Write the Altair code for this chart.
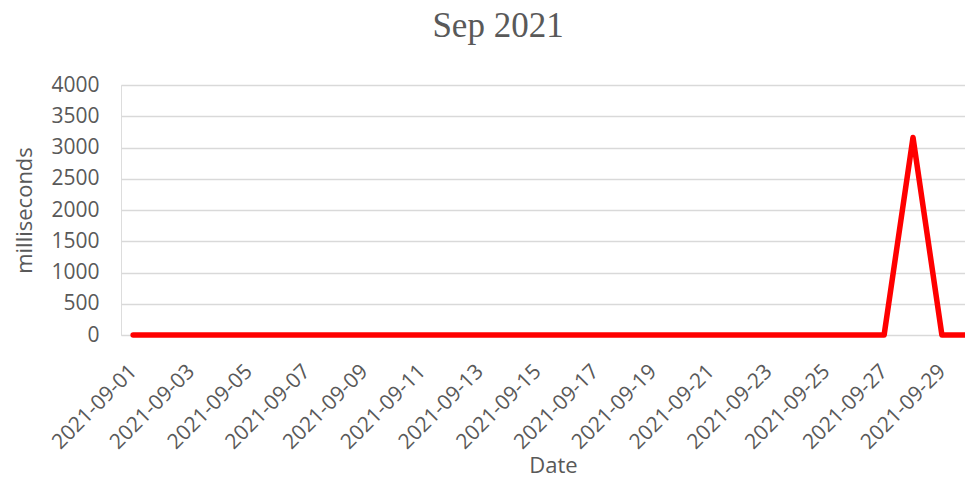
import altair as alt
import pandas as pd

dates = [
    "2021-09-01", "2021-09-02", "2021-09-03", "2021-09-04", "2021-09-05",
    "2021-09-06", "2021-09-07", "2021-09-08", "2021-09-09", "2021-09-10",
    "2021-09-11", "2021-09-12", "2021-09-13", "2021-09-14", "2021-09-15",
    "2021-09-16", "2021-09-17", "2021-09-18", "2021-09-19", "2021-09-20",
    "2021-09-21", "2021-09-22", "2021-09-23", "2021-09-24", "2021-09-25",
    "2021-09-26", "2021-09-27", "2021-09-28", "2021-09-29", "2021-09-30",
]
milliseconds = [
    0, 0, 0, 0, 0, 0, 0, 0, 0, 0,
    0, 0, 0, 0, 0, 0, 0, 0, 0, 0,
    0, 0, 0, 0, 0, 0, 0, 3160, 0, 0,
]
y_ticks = [0, 500, 1000, 1500, 2000, 2500, 3000, 3500, 4000]
x_tick_positions = [1, 3, 5, 7, 9, 11, 13, 15, 17, 19, 21, 23, 25, 27, 29]

df = pd.DataFrame({
    "date": dates,
    "ms": milliseconds,
    "pos": list(range(1, len(dates) + 1)),
})

label_expr = "[" + ",".join(f"'{d}'" for d in dates) + "][datum.value - 1]"

TEXT = "#595959"
FONT = "Open Sans"

chart = alt.Chart(df).mark_line(
    color="#ff0000", strokeWidth=5.5, strokeJoin="round", strokeCap="round"
).encode(
    x=alt.X(
        "pos:Q",
        scale=alt.Scale(domain=[0.58, 29.8], nice=False, zero=False),
        axis=alt.Axis(
            values=x_tick_positions,
            labelExpr=label_expr,
            labelAngle=-45,
            labelAlign="right",
            labelBaseline="middle",
            labelPadding=33,
            labelFont=FONT,
            labelFontSize=21,
            labelColor=TEXT,
            labelOverlap=False,
            ticks=False,
            grid=False,
            domain=False,
            title="Date",
            titleFont=FONT,
            titleFontSize=22,
            titleFontWeight="normal",
            titleColor=TEXT,
            titlePadding=3,
            titleX=432,
        ),
    ),
    y=alt.Y(
        "ms:Q",
        scale=alt.Scale(domain=[0, 4000], nice=False),
        axis=alt.Axis(
            values=y_ticks,
            format="d",
            labelFont=FONT,
            labelFontSize=21,
            labelColor=TEXT,
            labelPadding=22,
            ticks=False,
            domain=False,
            grid=True,
            gridColor="#d9d9d9",
            gridWidth=1.5,
            title="milliseconds",
            titleFont=FONT,
            titleFontSize=22,
            titleFontWeight="normal",
            titleColor=TEXT,
            titlePadding=14,
        ),
    ),
).properties(
    width=844,
    height=250,
    title=alt.TitleParams(
        "Sep 2021",
        font="Liberation Serif",
        fontSize=35,
        fontWeight="normal",
        color=TEXT,
        offset=30,
        dx=-45,
    ),
    autosize=alt.AutoSizeParams(type="none"),
    padding={"left": 113, "top": 77, "right": 0, "bottom": 144},
).configure_view(stroke=None).configure(background="white")

chart.save("out.html", embed_options={"renderer": "svg", "actions": False})
